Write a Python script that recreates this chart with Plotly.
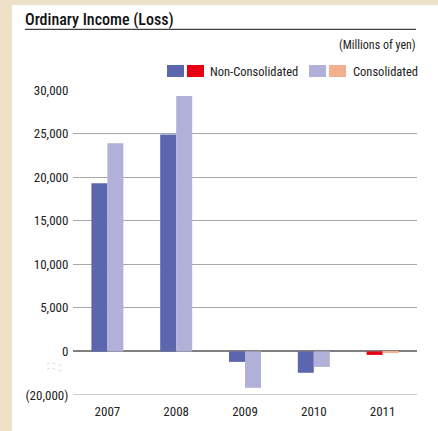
import plotly.graph_objects as go

# Ordinary income (loss), millions of yen
years = ["2007", "2008", "2009", "2010", "2011"]
non_consolidated = [19300, 24900, -4800, -9800, -1600]
consolidated = [23900, 29300, -16700, -7100, -400]

# Colours: the latest year is highlighted with warm tones
nc_colors = ["#5c66ae", "#5c66ae", "#5c66ae", "#5c66ae", "#e60012"]
c_colors = ["#b0b0d8", "#b0b0d8", "#b0b0d8", "#b0b0d8", "#f3b08f"]

pos_ticks = [0, 5000, 10000, 15000, 20000, 25000, 30000]
neg_ticks = [-20000]

# Negative part of the axis is compressed (broken axis)
NEG_SCALE = 4.0


def axis_pos(v):
    return v / NEG_SCALE if v < 0 else v


def fmt(v):
    return f"({abs(v):,})" if v < 0 else f"{v:,}"


FONT = "Roboto Condensed, Liberation Sans Narrow, DejaVu Sans Condensed, sans-serif"
W, H = 438, 431
ML, MR, MT, MB = 73, 21, 90, 36
PW, PH = W - ML - MR, H - MT - MB


def px(x):
    return (x - ML) / PW


def py(y):
    return (H - MB - y) / PH


def wave_path(x0, x1, y, amp):
    xm = (x0 + x1) / 2
    q1 = (x0 + xm) / 2
    return (f"M {px(x0)},{py(y)} Q {px(q1)},{py(y - amp)} {px(xm)},{py(y)} "
            f"T {px(x1)},{py(y)}")


fig = go.Figure()
fig.add_trace(go.Bar(
    x=years, y=[axis_pos(v) for v in non_consolidated],
    customdata=non_consolidated, marker=dict(color=nc_colors, line=dict(width=0)),
    name="Non-Consolidated",
    hovertemplate="%{x}: %{customdata:,}<extra>Non-Consolidated</extra>",
))
fig.add_trace(go.Bar(
    x=years, y=[axis_pos(v) for v in consolidated],
    customdata=consolidated, marker=dict(color=c_colors, line=dict(width=0)),
    name="Consolidated",
    hovertemplate="%{x}: %{customdata:,}<extra>Consolidated</extra>",
))

tickvals = [axis_pos(v) for v in neg_ticks + pos_ticks]
ticktext = [fmt(v) for v in neg_ticks + pos_ticks]

shapes = [
    # white panel on the beige page
    dict(type="rect", xref="paper", yref="paper", layer="below",
         x0=px(12), x1=px(W + 5), y0=py(5), y1=py(H + 5),
         fillcolor="white", line=dict(width=0)),
    # title underline
    dict(type="line", xref="paper", yref="paper",
         x0=px(25), x1=px(416), y0=py(29.3), y1=py(29.3),
         line=dict(color="#111", width=1)),
    # gridline at the bottom of the broken axis
    dict(type="line", xref="paper", yref="y", layer="below",
         x0=0, x1=1, y0=axis_pos(neg_ticks[0]), y1=axis_pos(neg_ticks[0]),
         line=dict(color="#a0a0a0", width=1.2)),
    # axis break mark
    dict(type="path", xref="paper", yref="paper", path=wave_path(47, 64, 364, 2.5),
         line=dict(color="#dadada", width=1, dash="dot")),
    dict(type="path", xref="paper", yref="paper", path=wave_path(47, 64, 369.5, 2.5),
         line=dict(color="#dadada", width=1, dash="dot")),
]

# legend swatches
swatches = [(167, nc_colors[0]), (187, nc_colors[-1]),
            (309, c_colors[0]), (329, c_colors[-1])]
for x0, col in swatches:
    shapes.append(dict(type="rect", xref="paper", yref="paper",
                       x0=px(x0), x1=px(x0 + 17), y0=py(65), y1=py(77),
                       fillcolor=col, line=dict(width=0)))

annotations = [
    dict(text="Ordinary Income (Loss)", xref="paper", yref="paper",
         x=px(23), y=py(20), xanchor="left", yanchor="middle", showarrow=False,
         font=dict(family=FONT, size=16, color="#111", weight=500)),
    dict(text="(Millions of yen)", xref="paper", yref="paper",
         x=px(418), y=py(45), xanchor="right", yanchor="middle", showarrow=False,
         font=dict(family=FONT, size=12, color="#222")),
    dict(text="Non-Consolidated", xref="paper", yref="paper",
         x=px(208), y=py(71.5), xanchor="left", yanchor="middle", showarrow=False,
         font=dict(family=FONT, size=12.5, color="#222")),
    dict(text="Consolidated", xref="paper", yref="paper",
         x=px(351), y=py(71.5), xanchor="left", yanchor="middle", showarrow=False,
         font=dict(family=FONT, size=12.5, color="#222")),
]

fig.update_layout(
    width=W, height=H,
    margin=dict(l=ML, r=MR, t=MT, b=MB, pad=0),
    paper_bgcolor="#ede2c8",
    plot_bgcolor="white",
    barmode="group", bargap=0.535, bargroupgap=0,
    showlegend=False,
    font=dict(family=FONT, size=13, color="#222"),
    shapes=shapes, annotations=annotations,
    xaxis=dict(showline=False, showgrid=False, ticks="outside", ticklen=4,
               tickcolor="rgba(0,0,0,0)", tickfont=dict(size=13), automargin=False),
    yaxis=dict(range=[axis_pos(-20000), 30000], tickvals=tickvals, ticktext=ticktext,
               showgrid=True, gridcolor="#a8a8a8", gridwidth=1,
               zeroline=True, zerolinecolor="#808080", zerolinewidth=2,
               showline=False, ticks="outside", ticklen=1,
               tickcolor="rgba(0,0,0,0)", tickfont=dict(size=13), automargin=False),
)

fig.write_html("out.html")
